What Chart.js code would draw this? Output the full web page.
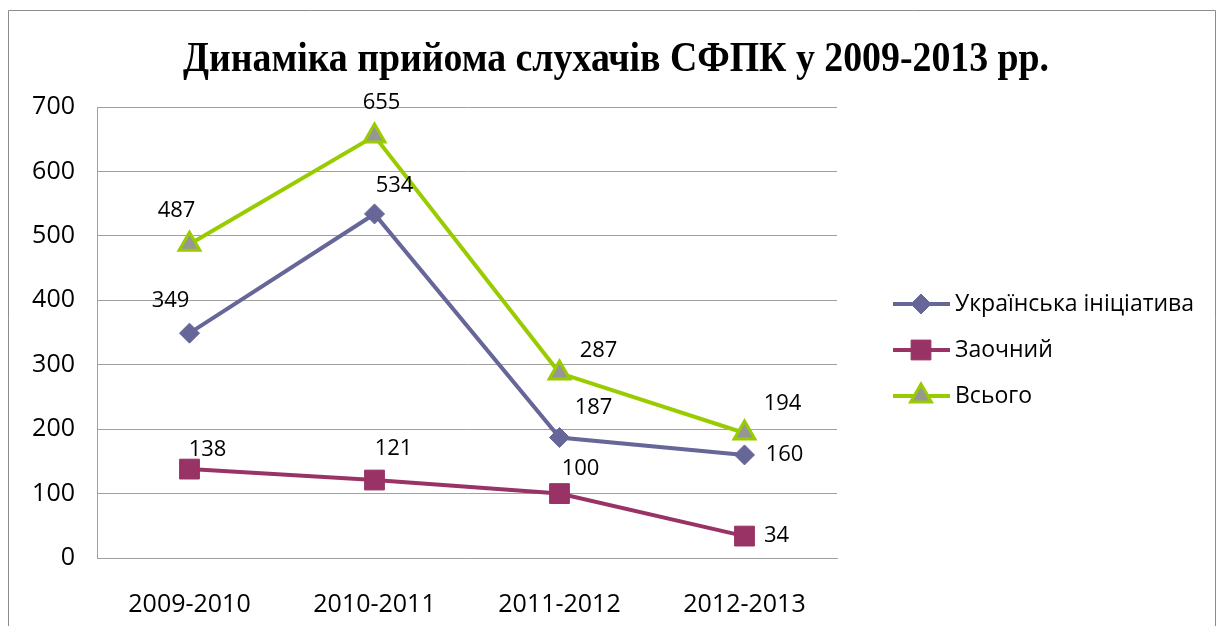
<!DOCTYPE html>
<html>
<head>
<meta charset="utf-8">
<script src="https://cdn.jsdelivr.net/npm/chart.js@4"></script>
<style>
    html, body { margin: 0; padding: 0; background: #fff; }
</style>
</head>
<body>
<canvas id="myChart" width="1219" height="626"></canvas>
<script>
// chart data
var years = ['2009-2010', '2010-2011', '2011-2012', '2012-2013'];
var seriesNames = ['Українська ініціатива', 'Заочний', 'Всього'];
var ukrInit = [349, 534, 187, 160];
var zaochnyi = [138, 121, 100, 34];
var vsogo = [487, 655, 287, 194];
var yMin = 0, yMax = 700, yStep = 100;
var titleText = 'Динаміка прийома слухачів СФПК у 2009-2013 рр.';

// where each value label sits relative to its point (dx, dy)
var labelShift = [
    [[-19, -32], [20, -28], [34, -30], [40, 0]],
    [[18, -19], [19, -31], [21, -25], [32, 0]],
    [[-13, -33], [7, -33], [39, -22], [38, -29]]
];

var ctx = document.getElementById('myChart');

// white page, grey frame and the title across the whole frame
var framePlugin = {
    id: 'frame',
    beforeDraw: function (chart) {
        var c = chart.ctx;
        c.save();
        c.fillStyle = '#fff';
        c.fillRect(0, 0, chart.width, chart.height);
        c.strokeStyle = '#8c8c8c';
        c.lineWidth = 1;
        c.beginPath();
        c.moveTo(8.5, 700);
        c.lineTo(8.5, 10.5);
        c.lineTo(1215.5, 10.5);
        c.lineTo(1215.5, 700);
        c.stroke();
        // title is a bit condensed in the original
        c.translate(616, 60);
        c.scale(0.9, 1);
        c.fillStyle = '#000';
        c.font = 'bold 42px "Liberation Serif"';
        c.textAlign = 'center';
        c.textBaseline = 'middle';
        c.fillText(titleText, 0, 0);
        c.restore();
    }
};

var valueLabels = {
    id: 'valueLabels',
    afterDatasetsDraw: function (chart) {
        var c = chart.ctx;
        c.save();
        c.font = '22px "Open Sans"';
        c.fillStyle = '#000';
        c.textAlign = 'center';
        c.textBaseline = 'middle';
        chart.data.datasets.forEach(function (ds, i) {
            chart.getDatasetMeta(i).data.forEach(function (pt, j) {
                var s = labelShift[i][j];
                c.fillText(ds.data[j], pt.x + s[0], pt.y + s[1]);
            });
        });
        c.restore();
    }
};

var sideLegend = {
    id: 'sideLegend',
    afterDraw: function (chart) {
        var c = chart.ctx;
        var x = chart.chartArea.right + 56;
        var y = 304;
        c.save();
        chart.data.datasets.forEach(function (ds, i) {
            var yy = y + i * 46;
            c.strokeStyle = ds.borderColor;
            c.lineWidth = 4;
            c.beginPath();
            c.moveTo(x, yy);
            c.lineTo(x + 57, yy);
            c.stroke();
            c.fillStyle = ds.pointBackgroundColor;
            c.strokeStyle = ds.pointBorderColor;
            c.lineWidth = ds.pointBorderWidth;
            Chart.helpers.drawPoint(c, {
                pointStyle: ds.pointStyle,
                radius: ds.pointRadius,
                borderWidth: ds.pointBorderWidth,
                rotation: 0
            }, x + 28, yy);
            c.fillStyle = '#000';
            c.font = '23px "Open Sans"';
            c.textAlign = 'left';
            c.textBaseline = 'middle';
            c.fillText(seriesNames[i], x + 62, yy);
        });
        c.restore();
    }
};

var data = {
    labels: years,
    datasets: [{
        label: seriesNames[0],
        data: ukrInit,
        borderColor: '#666699',
        borderWidth: 4,
        pointStyle: 'rectRot',
        pointRadius: 10,
        pointBackgroundColor: '#666699',
        pointBorderColor: '#666699',
        pointBorderWidth: 1
    }, {
        label: seriesNames[1],
        data: zaochnyi,
        borderColor: '#993366',
        borderWidth: 4,
        pointStyle: 'rect',
        pointRadius: 14,
        pointBackgroundColor: '#993366',
        pointBorderColor: '#993366',
        pointBorderWidth: 1
    }, {
        label: seriesNames[2],
        data: vsogo,
        borderColor: '#99cc00',
        borderWidth: 4,
        pointStyle: 'triangle',
        pointRadius: 12,
        pointBackgroundColor: '#969696',
        pointBorderColor: '#99cc00',
        pointBorderWidth: 3
    }]
};

var option = {
    responsive: false,
    animation: false,
    layout: {
        padding: { left: 8, right: 382, top: 107, bottom: 0 }
    },
    plugins: {
        legend: { display: false },
        tooltip: { enabled: false },
        title: { display: false }
    },
    scales: {
        x: {
            offset: true,
            grid: { display: false, drawTicks: false },
            border: { display: true, color: '#a0a0a0', width: 1 },
            ticks: {
                color: '#000',
                font: { family: '"Open Sans"', size: 25 },
                padding: 32
            },
            afterFit: function (scale) { scale.height = 68; }
        },
        y: {
            min: yMin,
            max: yMax,
            ticks: {
                stepSize: yStep,
                color: '#000',
                font: { family: '"Open Sans"', size: 25 },
                padding: 22
            },
            grid: { color: '#a0a0a0', drawTicks: false },
            border: { display: true, color: '#a0a0a0', width: 1 },
            afterFit: function (scale) { scale.width = 89; }
        }
    }
};

var myChart = new Chart(ctx, {
    type: 'line',
    data: data,
    options: option,
    plugins: [framePlugin, valueLabels, sideLegend]
});
</script>
</body>
</html>
